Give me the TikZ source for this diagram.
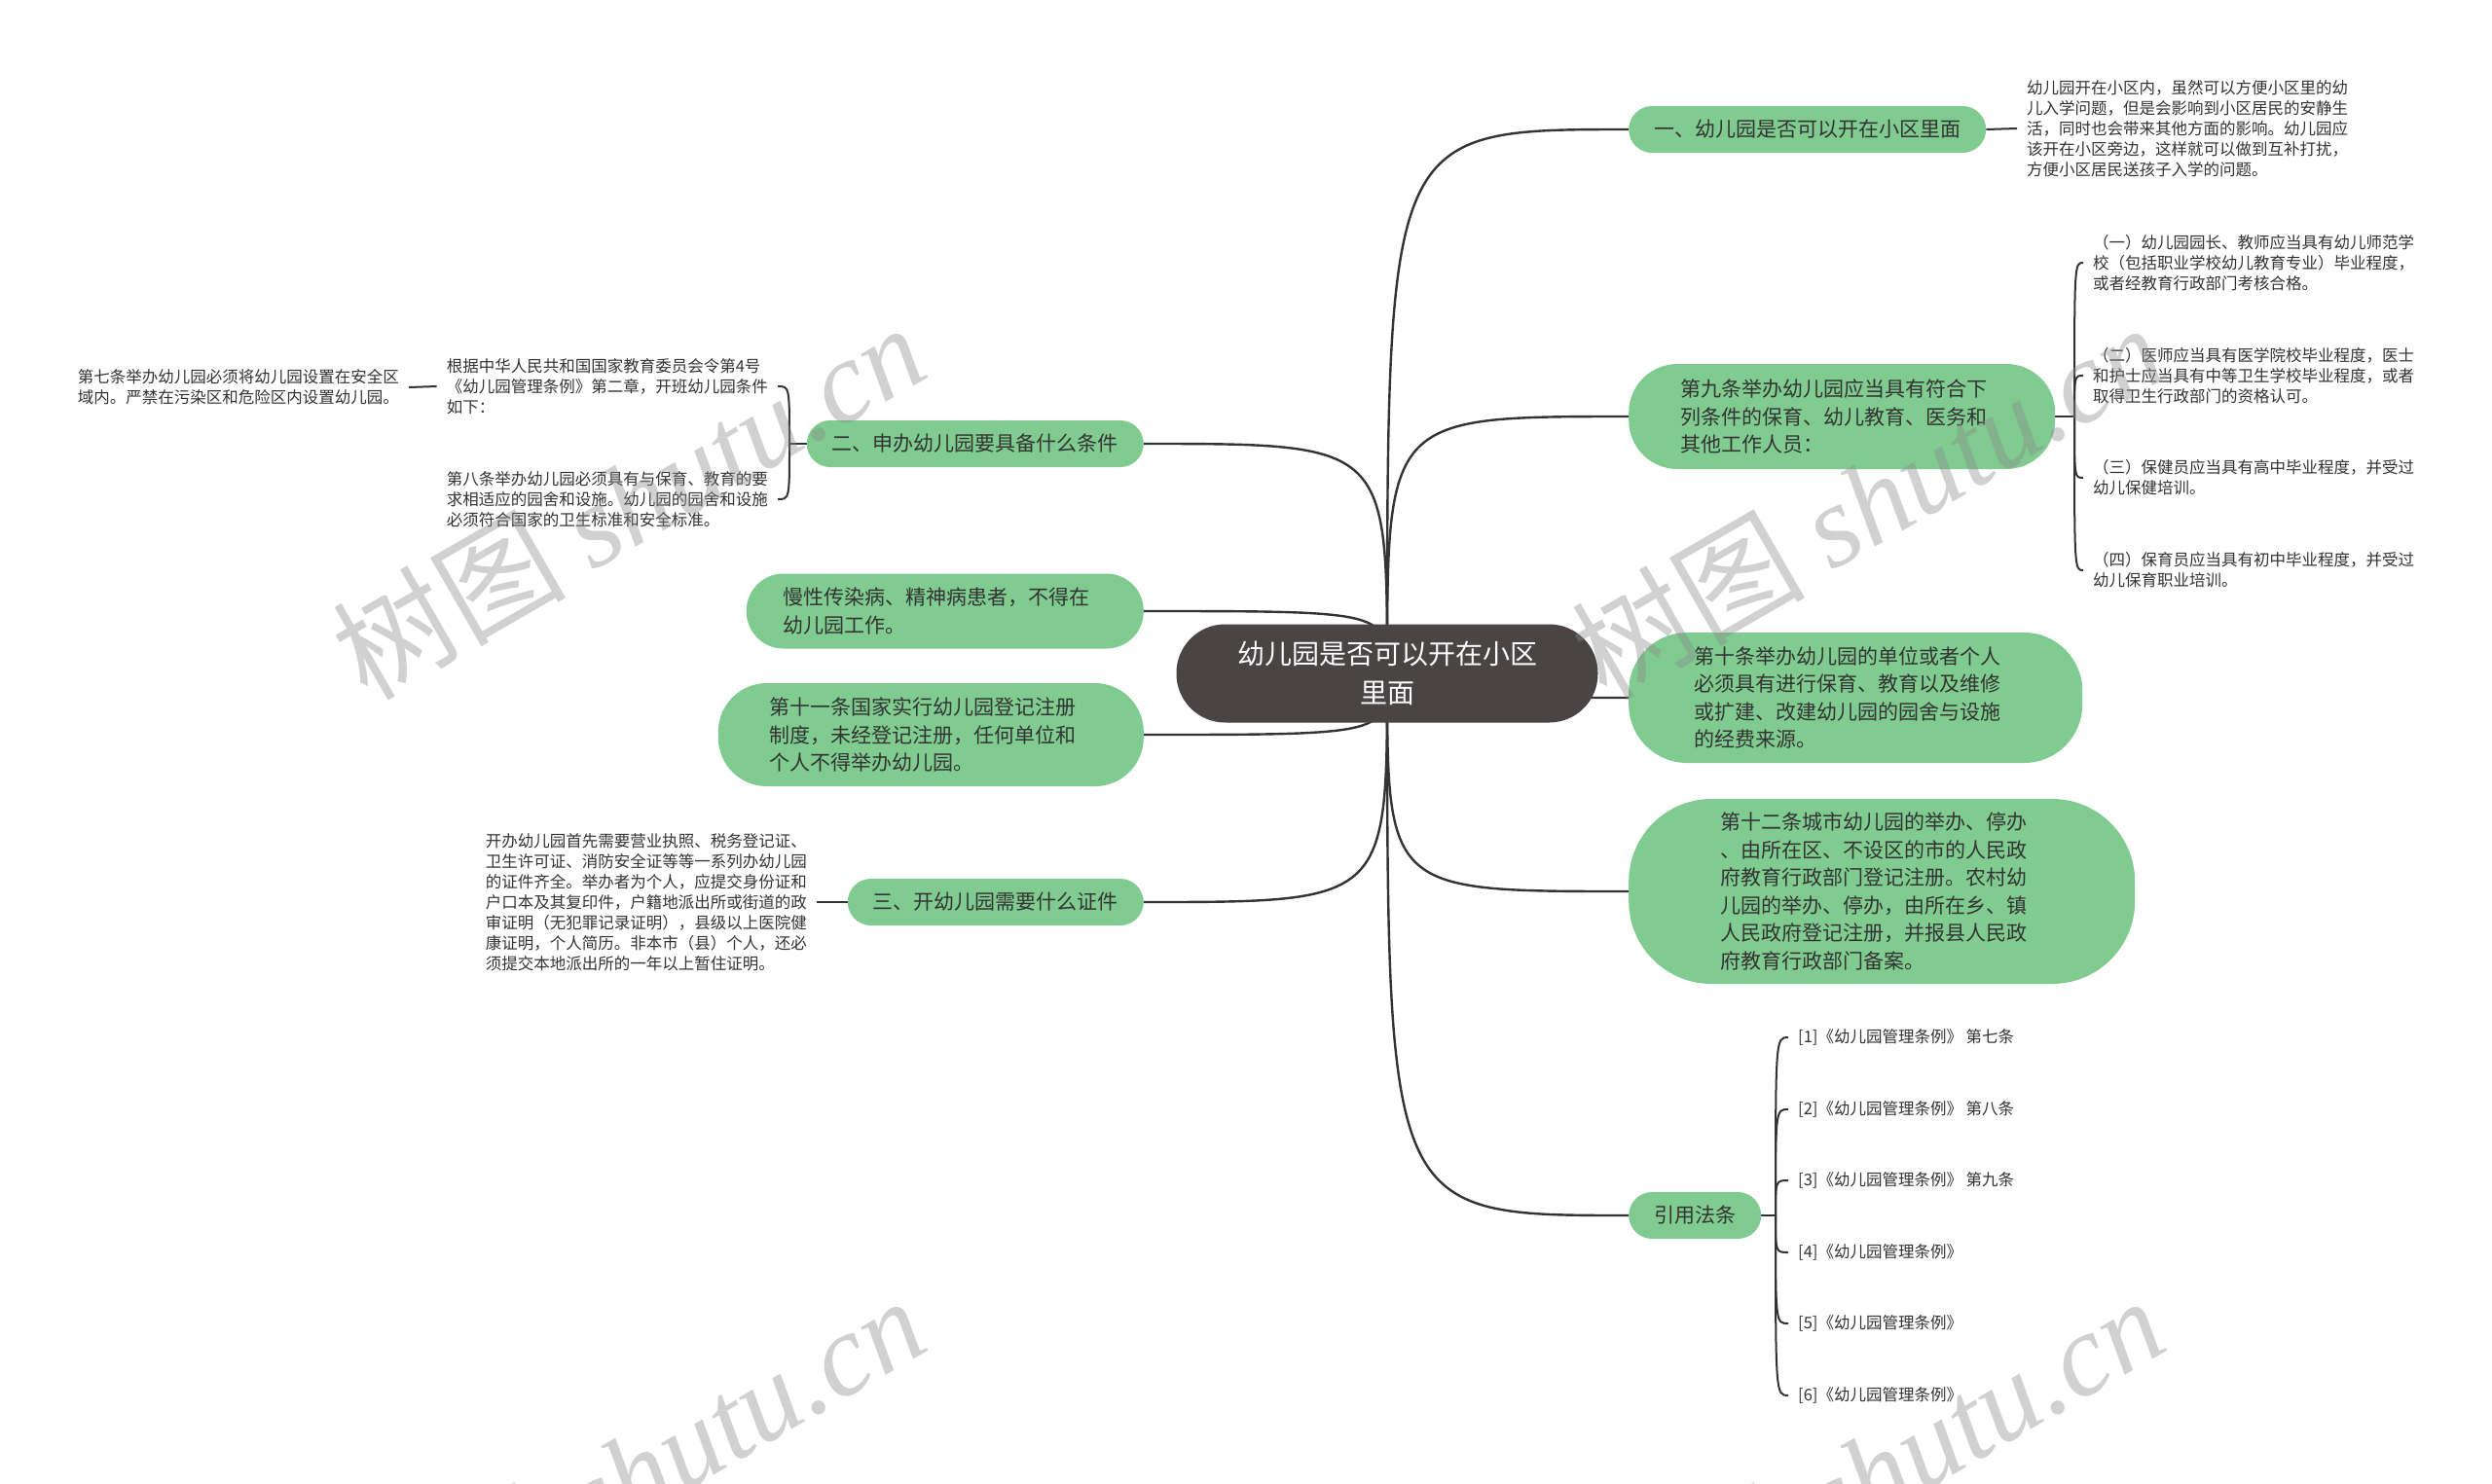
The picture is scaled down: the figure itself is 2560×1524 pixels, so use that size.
\documentclass[tikz,border=0pt]{standalone}
\usepackage{fontspec}
\setmainfont{Noto Sans CJK SC}
\newfontfamily\wmlat{Liberation Serif}
\usetikzlibrary{backgrounds}
\definecolor{gfill}{RGB}{128,203,143}
\definecolor{rootfill}{RGB}{74,68,68}
\definecolor{txt}{RGB}{51,51,51}
\definecolor{lin}{RGB}{51,51,51}
\definecolor{wm}{RGB}{140,140,140}
\begin{document}
\begin{tikzpicture}[x=1pt,y=-1pt,
  conn/.style={draw=lin, line width=2.4pt},
  bconn/.style={draw=lin, line width=2pt},
  root/.style={fill=rootfill, text=white, rounded corners=50pt, minimum width=433pt, minimum height=101pt, font=\fontsize{28}{40}\selectfont, align=center},
  gbox/.style={fill=gfill, text=txt, font=\fontsize{21}{28.5}\selectfont, align=left, text width=332pt, inner sep=0pt},
  pill/.style={fill=gfill, text=txt, font=\fontsize{21}{25}\selectfont, rounded corners=24pt, minimum height=48pt, inner xsep=26pt, inner ysep=0pt},
  leaf/.style={text=txt, font=\fontsize{16.5}{21}\selectfont, align=left, inner xsep=10pt, inner ysep=2pt},
  wmark/.style={text=wm, opacity=0.4, rotate=30, font=\fontsize{120}{120}\selectfont}
]
\useasboundingbox (0,0) rectangle (2560,1524);

% ---------- nodes ----------
\node[root] (root) at (1425,692) {幼儿园是否可以开在小区\\里面};

% right side
\node[pill, anchor=west] (n1) at (1673,133) {一、幼儿园是否可以开在小区里面};
\node[gbox, anchor=west, minimum width=438pt, minimum height=108pt, rounded corners=50pt] (n9) at (1673,428) {第九条举办幼儿园应当具有符合下\\列条件的保育、幼儿教育、医务和\\其他工作人员：};
\node[gbox, anchor=west, minimum width=466pt, minimum height=134pt, rounded corners=60pt] (n10) at (1673,717) {第十条举办幼儿园的单位或者个人\\必须具有进行保育、教育以及维修\\或扩建、改建幼儿园的园舍与设施\\的经费来源。};
\node[gbox, anchor=west, minimum width=520pt, minimum height=190pt, rounded corners=85pt] (n12) at (1673,916) {第十二条城市幼儿园的举办、停办\\、由所在区、不设区的市的人民政\\府教育行政部门登记注册。农村幼\\儿园的举办、停办，由所在乡、镇\\人民政府登记注册，并报县人民政\\府教育行政部门备案。};
\node[pill, anchor=west] (nref) at (1673,1249) {引用法条};

% left side
\node[pill, anchor=east] (n2) at (1175,456) {二、申办幼儿园要具备什么条件};
\node[gbox, anchor=east, minimum width=408pt, minimum height=77pt, rounded corners=38pt] (nslow) at (1175,628) {慢性传染病、精神病患者，不得在\\幼儿园工作。};
\node[gbox, anchor=east, minimum width=437pt, minimum height=106pt, rounded corners=50pt] (n11) at (1175,755) {第十一条国家实行幼儿园登记注册\\制度，未经登记注册，任何单位和\\个人不得举办幼儿园。};
\node[pill, anchor=east] (n3) at (1175,927) {三、开幼儿园需要什么证件};

% leaves right
\node[leaf, anchor=west] (l1) at (2072,132) {幼儿园开在小区内，虽然可以方便小区里的幼\\儿入学问题，但是会影响到小区居民的安静生\\活，同时也会带来其他方面的影响。幼儿园应\\该开在小区旁边，这样就可以做到互补打扰，\\方便小区居民送孩子入学的问题。};

\coordinate (j9) at (2131,428);
\node[leaf, anchor=west] (a1) at (2140,270) {（一）幼儿园园长、教师应当具有幼儿师范学\\校（包括职业学校幼儿教育专业）毕业程度，\\或者经教育行政部门考核合格。};
\node[leaf, anchor=west] (a2) at (2140,386) {（二）医师应当具有医学院校毕业程度，医士\\和护士应当具有中等卫生学校毕业程度，或者\\取得卫生行政部门的资格认可。};
\node[leaf, anchor=west] (a3) at (2140,491) {（三）保健员应当具有高中毕业程度，并受过\\幼儿保健培训。};
\node[leaf, anchor=west] (a4) at (2140,586) {（四）保育员应当具有初中毕业程度，并受过\\幼儿保育职业培训。};

\coordinate (jr) at (1824,1249);
\node[leaf, anchor=west] (r1) at (1837,1066) {[1]《幼儿园管理条例》 第七条};
\node[leaf, anchor=west] (r2) at (1837,1140) {[2]《幼儿园管理条例》 第八条};
\node[leaf, anchor=west] (r3) at (1837,1213) {[3]《幼儿园管理条例》 第九条};
\node[leaf, anchor=west] (r4) at (1837,1287) {[4]《幼儿园管理条例》};
\node[leaf, anchor=west] (r5) at (1837,1360) {[5]《幼儿园管理条例》};
\node[leaf, anchor=west] (r6) at (1837,1434) {[6]《幼儿园管理条例》};

% leaves left
\coordinate (j2) at (811,456);
\node[leaf, anchor=east] (b1) at (799,397) {根据中华人民共和国国家教育委员会令第4号\\《幼儿园管理条例》第二章，开班幼儿园条件\\如下：};
\node[leaf, anchor=east] (b2) at (799,513) {第八条举办幼儿园必须具有与保育、教育的要\\求相适应的园舍和设施。幼儿园的园舍和设施\\必须符合国家的卫生标准和安全标准。};
\node[leaf, anchor=east] (b0) at (420,398) {第七条举办幼儿园必须将幼儿园设置在安全区\\域内。严禁在污染区和危险区内设置幼儿园。};

\node[leaf, anchor=east] (c1) at (839,927) {开办幼儿园首先需要营业执照、税务登记证、\\卫生许可证、消防安全证等等一系列办幼儿园\\的证件齐全。举办者为个人，应提交身份证和\\户口本及其复印件，户籍地派出所或街道的政\\审证明（无犯罪记录证明），县级以上医院健\\康证明，个人简历。非本市（县）个人，还必\\须提交本地派出所的一年以上暂住证明。};

% ---------- connectors (behind nodes) ----------
\begin{scope}[on background layer]
\fill[white] (0,0) rectangle (2560,1524);
\foreach \n in {n1,n9,n10,n12,nref}
  \draw[conn] (root.center) .. controls (root.center |- \n.west) .. (\n.west);
\foreach \n in {n2,nslow,n11,n3}
  \draw[conn] (root.center) .. controls (root.center |- \n.east) .. (\n.east);
\draw[bconn] (n1.east) -- (l1.west);
\draw[bconn] (n9.east) -- (j9);
\foreach \n in {a1,a2,a3,a4}
  \draw[bconn] (j9) .. controls (j9 |- \n.west) .. (\n.west);
\draw[bconn] (nref.east) -- (jr);
\foreach \n in {r1,r2,r3,r4,r5,r6}
  \draw[bconn] (jr) .. controls (jr |- \n.west) .. (\n.west);
\draw[bconn] (n2.west) -- (j2);
\foreach \n in {b1,b2}
  \draw[bconn] (j2) .. controls (j2 |- \n.east) .. (\n.east);
\draw[bconn] (b1.west) -- (b0.east);
\draw[bconn] (n3.west) -- (c1.east);
\end{scope}

% ---------- watermarks ----------
\begin{scope}
\clip (0,0) rectangle (2560,1524);
\node[wmark] (w1) at (645,514) {树图 {\wmlat\itshape shutu.cn}};
\node[wmark] (w2) at (1918,514) {树图 {\wmlat\itshape shutu.cn}};
\node[wmark] (w3) at (645,1514) {树图 {\wmlat\itshape shutu.cn}};
\node[wmark] (w4) at (1918,1514) {树图 {\wmlat\itshape shutu.cn}};
\end{scope}
\end{tikzpicture}
\end{document}
